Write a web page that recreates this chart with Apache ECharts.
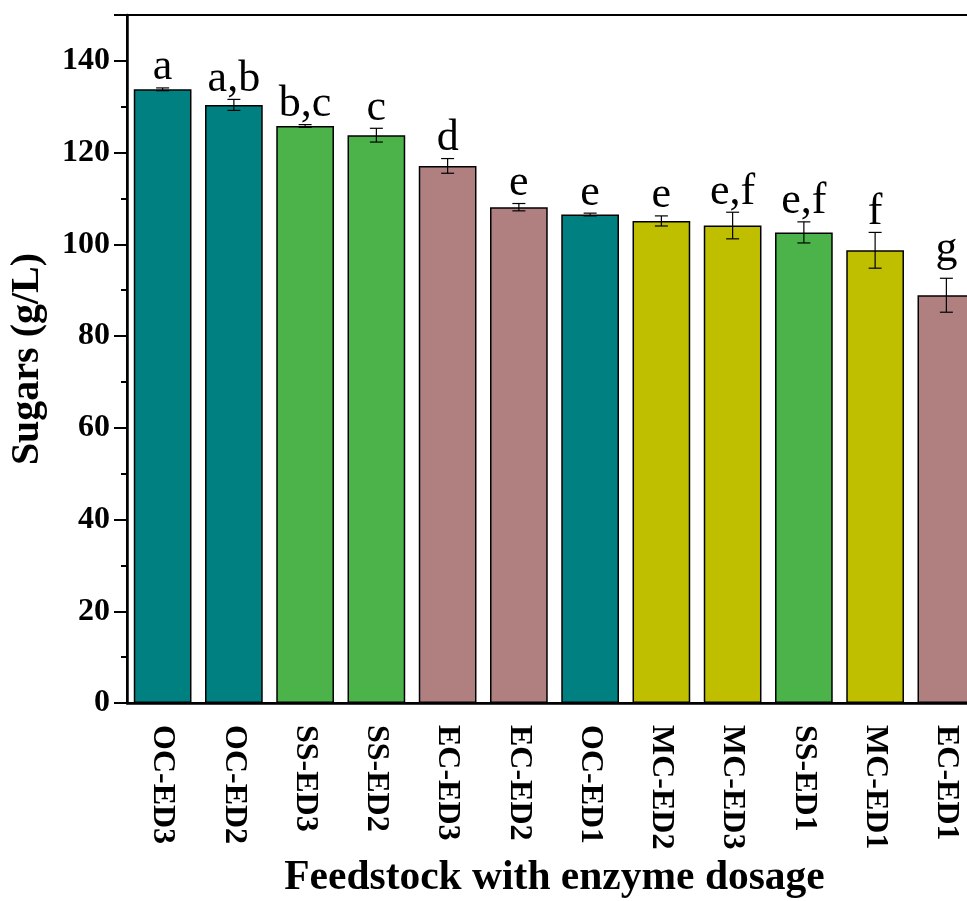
<!DOCTYPE html>
<html><head><meta charset="utf-8">
<script src="https://cdn.jsdelivr.net/npm/echarts@6.0.0/dist/echarts.min.js"></script>
<style>html,body{margin:0;padding:0;background:#fff}#c{width:967px;height:901px}</style>
</head><body><div id="c"></div>
<script>
const categories = ['OC-ED3','OC-ED2','SS-ED3','SS-ED2','EC-ED3','EC-ED2','OC-ED1','MC-ED2','MC-ED3','SS-ED1','MC-ED1','EC-ED1'];
const sugars = [133.8, 130.4, 125.8, 123.8, 117.1, 108.1, 106.5, 105.1, 104.1, 102.6, 98.7, 88.9];
const errors = [0.3, 1.2, 0.3, 1.5, 1.6, 0.8, 0.3, 1.1, 2.9, 2.3, 3.9, 3.7];
const letters = ['a','a,b','b,c','c','d','e','e','e','e,f','e,f','f','g'];
const yTicks = [0, 20, 40, 60, 80, 100, 120, 140];
const feedColors = {OC:'#008080', SS:'#4cb34b', EC:'#b08080', MC:'#bfbf00'};

const FONT = '"Times New Roman","Liberation Serif",serif';
const chart = echarts.init(document.getElementById('c'), null, {renderer:'canvas'});
chart.setOption({
  animation:false,
  backgroundColor:'#fff',
  grid:{left:127, top:15, width:855, height:688, containLabel:false, outerBoundsMode:'none',
    show:true, borderColor:'#000', borderWidth:2, backgroundColor:'transparent'},
  xAxis:{
    type:'category', data:categories, position:'bottom',
    axisLine:{lineStyle:{color:'#000', width:2.5}},
    axisTick:{alignWithLabel:true, length:12, lineStyle:{color:'#000', width:2}},
    axisLabel:{rotate:-90, margin:22, color:'#000', fontFamily:FONT, fontWeight:'bold', fontSize:32, interval:0},
    name:'Feedstock with enzyme dosage', nameLocation:'middle', nameGap:153,
    nameTextStyle:{color:'#000', fontFamily:FONT, fontWeight:'bold', fontSize:41.5}
  },
  yAxis:{
    type:'value', min:0, max:150, interval:20,
    axisLine:{show:true, lineStyle:{color:'#000', width:2.5}},
    axisTick:{show:true, length:13, lineStyle:{color:'#000', width:2}},
    minorTick:{show:true, splitNumber:2, length:6, lineStyle:{color:'#000', width:2}},
    splitLine:{show:false},
    axisLabel:{margin:17, color:'#000', fontFamily:FONT, fontWeight:'bold', fontSize:32,
      formatter:v => yTicks.indexOf(v) >= 0 ? String(v) : ''},
    name:'Sugars (g/L)', nameLocation:'middle', nameGap:79,
    nameTextStyle:{color:'#000', fontFamily:FONT, fontWeight:'bold', fontSize:40}
  },
  series:[{
    type:'bar', barCategoryGap:'19%',
    data:sugars.map((v,i)=>({value:v, itemStyle:{color:feedColors[categories[i].slice(0,2)], borderColor:'#000', borderWidth:1.5}})),
    z:2
  },{
    type:'custom', z:5,
    data:sugars.map((v,i)=>[i, v, errors[i]]),
    encode:{x:0, y:1},
    renderItem:(params, api)=>{
      const i = api.value(0), m = api.value(1), e = api.value(2);
      const t = api.coord([i, m+e]), b = api.coord([i, m-e]);
      const hw = 6.5, st = {stroke:'#000', lineWidth:1.2};
      const txt = letters[params.dataIndex];
      const lift = /[gpqy]/.test(txt) ? 9 : 0;
      return {type:'group', children:[
        {type:'line', shape:{x1:t[0], y1:t[1], x2:b[0], y2:b[1]}, style:st},
        {type:'line', shape:{x1:t[0]-hw, y1:t[1], x2:t[0]+hw, y2:t[1]}, style:st},
        {type:'line', shape:{x1:b[0]-hw, y1:b[1], x2:b[0]+hw, y2:b[1]}, style:st},
        {type:'text', x:t[0], y:t[1]+2-lift, style:{text:txt, fill:'#000',
          font:'44px "Times New Roman","Liberation Serif",serif', align:'center', verticalAlign:'bottom'}}
      ]};
    }
  }]
});
</script></body></html>
